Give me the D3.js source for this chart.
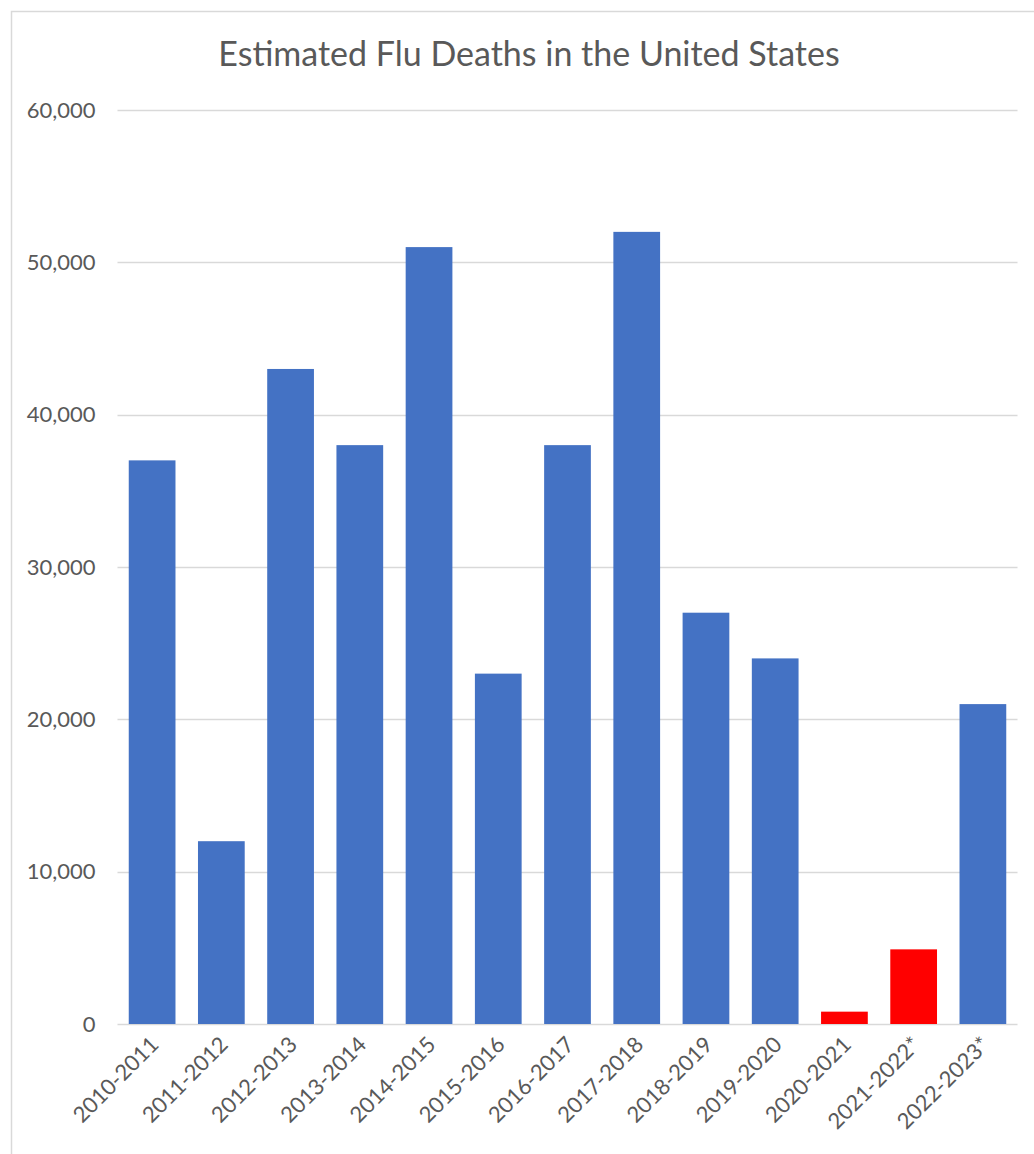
<!DOCTYPE html>
<html><head><meta charset="utf-8">
<script src="https://cdn.jsdelivr.net/npm/d3@7"></script>
<style>body{margin:0;background:#fff;} svg{display:block;}</style>
</head><body>
<script>
const categories = ["2010-2011","2011-2012","2012-2013","2013-2014","2014-2015","2015-2016","2016-2017","2017-2018","2018-2019","2019-2020","2020-2021","2021-2022*","2022-2023*"];
const deaths = [37000,12000,43000,38000,51000,23000,38000,52000,27000,24000,810,4900,21000];
const highlighted = [false,false,false,false,false,false,false,false,false,false,true,true,false];
const yTicks = [0,10000,20000,30000,40000,50000,60000];
const title = "Estimated Flu Deaths in the United States";

const W=1034,H=1154;
const svg=d3.select("body").append("svg").attr("width",W).attr("height",H);
svg.append("rect").attr("x",11.5).attr("y",11.5).attr("width",W+10).attr("height",H+10)
  .attr("fill","#fff").attr("stroke","#d9d9d9").attr("stroke-width",1.5);

const x=d3.scaleBand().domain(categories).range([117.5,1017.5]).paddingInner(0.325).paddingOuter(0.1625);
const y=d3.scaleLinear().domain([0,60000]).range([1024,110]);

svg.append("text").attr("x",529).attr("y",66).attr("text-anchor","middle")
  .attr("font-family","Lato").attr("font-size",34).attr("fill","#595959").text(title);

const grid=svg.append("g");
grid.selectAll("line").data(yTicks).join("line")
  .attr("x1",117.5).attr("x2",1017.5).attr("y1",d=>Math.round(y(d))+0.5).attr("y2",d=>Math.round(y(d))+0.5)
  .attr("stroke","#d9d9d9").attr("stroke-width",1.5);

const yAxis=svg.append("g").attr("transform","translate(117.5,0)")
  .call(d3.axisLeft(y).tickValues(yTicks).tickFormat(d3.format(",")).tickSize(0).tickPadding(22));
yAxis.select(".domain").remove();
yAxis.selectAll("text").attr("font-family","Lato").attr("font-size",22).attr("fill","#595959");

svg.append("g").selectAll("rect").data(categories).join("rect")
  .attr("x",d=>x(d)).attr("width",x.bandwidth())
  .attr("y",(d,i)=>y(deaths[i])).attr("height",(d,i)=>y(0)-y(deaths[i]))
  .attr("fill",(d,i)=>highlighted[i]?"#FF0000":"#4472C4");

const xAxis=svg.append("g").attr("transform","translate(0,1024)")
  .call(d3.axisBottom(x).tickSize(0).tickPadding(0));
xAxis.select(".domain").remove();
xAxis.selectAll("text")
  .attr("font-family","Lato").attr("font-size",22).attr("fill","#595959")
  .attr("text-anchor","end").attr("dy",null)
  .attr("transform","translate(8,22) rotate(-45)");
</script>
</body></html>
